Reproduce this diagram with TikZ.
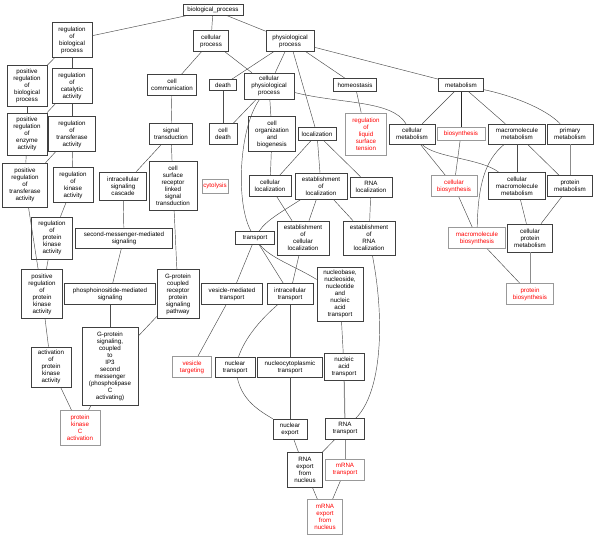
\documentclass[tikz,border=0pt]{standalone}
\usepackage{fontspec}
\setmainfont{Liberation Sans}
\begin{document}
\begin{tikzpicture}[x=1pt,y=-1pt,
 box/.style={draw=black!75, line width=0.6pt, align=center, inner sep=0pt, font=\fontsize{6.2}{7}\selectfont, fill=white},
 redbox/.style={box, draw=black!40, line width=0.9pt, text=red},
 sz/.style 2 args={minimum width=#1pt, minimum height=#2pt},
 edge/.style={draw=black!70, line width=0.45pt},
 heavy/.style={draw=black!45, line width=1pt}]
\fill[white] (0,0) rectangle (600,538);
\useasboundingbox (0,0) rectangle (600,538);
% row 1-2
\node[box,sz={60}{11}] (bp) at (213,10) {biological\_process};
\node[box,sz={40}{35}] (rbp) at (72,40) {regulation\\of\\biological\\process};
\node[box,sz={35}{21}] (cp) at (211,41) {cellular\\process};
\node[box,sz={48}{21}] (pp) at (290,41) {physiological\\process};
% row 3
\node[box,sz={40}{41}] (prbp) at (27,86) {positive\\regulation\\of\\biological\\process};
\node[box,sz={40}{35}] (rca) at (72,86) {regulation\\of\\catalytic\\activity};
\node[box,sz={49}{21}] (cc) at (172,85) {cell\\communication};
\node[box,sz={27}{11}] (death) at (223,85) {death};
\node[box,sz={50}{26}] (cpp) at (269,86) {cellular\\physiological\\process};
\node[box,sz={43}{13}] (hom) at (355,85) {homeostasis};
\node[box,sz={45}{13}] (met) at (461,85) {metabolism};
% row 4
\node[box,sz={40}{42}] (prea) at (27,134) {positive\\regulation\\of\\enzyme\\activity};
\node[box,sz={47}{35}] (rta) at (72,134) {regulation\\of\\transferase\\activity};
\node[box,sz={43}{21}] (st) at (171,134) {signal\\transduction};
\node[box,sz={28}{21}] (celld) at (223,134) {cell\\death};
\node[box,sz={47}{35}] (cob) at (272,134) {cell\\organization\\and\\biogenesis};
\node[box,sz={38}{13}] (loc) at (317,134) {localization};
\node[redbox,sz={41}{42}] (rlst) at (366,134) {regulation\\of\\liquid\\surface\\tension};
\node[box,sz={46}{20}] (cm) at (412,134) {cellular\\metabolism};
\node[redbox,sz={48}{13}] (bio) at (461,134) {biosynthesis};
\node[box,sz={57}{20}] (mm) at (517,134) {macromolecule\\metabolism};
\node[box,sz={46}{20}] (pm) at (570,134) {primary\\metabolism};
% row 5
\node[box,sz={45}{44}] (prta) at (25,185) {positive\\regulation\\of\\transferase\\activity};
\node[box,sz={40}{35}] (rka) at (73,185) {regulation\\of\\kinase\\activity};
\node[box,sz={47}{28}] (isc) at (123,186) {intracellular\\signaling\\cascade};
\node[box,sz={48}{49}] (csr) at (173,186) {cell\\surface\\receptor\\linked\\signal\\transduction};
\node[redbox,sz={26}{14}] (cyto) at (215,186) {cytolysis};
\node[box,sz={42}{21}] (cl) at (270,186) {cellular\\localization};
\node[box,sz={52}{26}] (eol) at (321,186) {establishment\\of\\localization};
\node[box,sz={42}{20}] (rl) at (371,187) {RNA\\localization};
\node[redbox,sz={46}{21}] (cb) at (454,186) {cellular\\biosynthesis};
\node[box,sz={57}{27}] (cmm) at (517,186) {cellular\\macromolecule\\metabolism};
\node[box,sz={45}{21}] (prm) at (570,186) {protein\\metabolism};
% row 6
\node[box,sz={41}{42}] (rpka) at (52,238) {regulation\\of\\protein\\kinase\\activity};
\node[box,sz={97}{20}] (smms) at (124,238) {second-messenger-mediated\\signaling};
\node[box,sz={39}{13}] (trans) at (255,238) {transport};
\node[box,sz={52}{34}] (ecl) at (303,238) {establishment\\of\\cellular\\localization};
\node[box,sz={52}{34}] (erl) at (369,238) {establishment\\of\\RNA\\localization};
\node[redbox,sz={57}{21}] (mb) at (477,238) {macromolecule\\biosynthesis};
\node[box,sz={45}{28}] (cpm) at (530,238) {cellular\\protein\\metabolism};
% row 7
\node[box,sz={41}{49}] (prpka) at (42,294) {positive\\regulation\\of\\protein\\kinase\\activity};
\node[box,sz={91}{21}] (pims) at (110,294) {phosphoinositide-mediated\\signaling};
\node[box,sz={42}{49}] (gpcr) at (178,294) {G-protein\\coupled\\receptor\\protein\\signaling\\pathway};
\node[box,sz={61}{21}] (vmt) at (232,294) {vesicle-mediated\\transport};
\node[box,sz={46}{21}] (it) at (290,294) {intracellular\\transport};
\node[box,sz={46}{54}] (nnt) at (340,294) {nucleobase,\\nucleoside,\\nucleotide\\and\\nucleic\\acid\\transport};
\node[redbox,sz={47}{21}] (pb) at (530,294) {protein\\biosynthesis};
% row 8
\node[box,sz={40}{40}] (apka) at (51,367) {activation\\of\\protein\\kinase\\activity};
\node[box,sz={56}{78}] (gip3) at (110,366) {G-protein\\signaling,\\coupled\\to\\IP3\\second\\messenger\\(phospholipase\\C\\activating)};
\node[redbox,sz={39}{21}] (vt) at (192,367) {vesicle\\targeting};
\node[box,sz={40}{20}] (nt) at (235,367) {nuclear\\transport};
\node[box,sz={65}{20}] (nct) at (290,367) {nucleocytoplasmic\\transport};
\node[box,sz={40}{27}] (nat) at (344,367) {nucleic\\acid\\transport};
% lower rows
\node[redbox,sz={40}{35}] (pkc) at (80,428) {protein\\kinase\\C\\activation};
\node[box,sz={34}{20}] (ne) at (290,429) {nuclear\\export};
\node[box,sz={39}{21}] (rt) at (345,429) {RNA\\transport};
\node[box,sz={35}{35}] (rexp) at (305,470) {RNA\\export\\from\\nucleus};
\node[redbox,sz={39}{21}] (mt) at (345,470) {mRNA\\transport};
\node[redbox,sz={35}{35}] (mexp) at (325,517) {mRNA\\export\\from\\nucleus};
% straight edges
\foreach \a/\b in {bp/rbp,bp/cp,bp/pp,rbp/prbp,rbp/rca,prbp/prea,rca/prea,rca/rta,
  prea/prta,rta/prta,rta/rka,rka/rpka,prta/prpka,rpka/prpka,prpka/apka,apka/pkc,gip3/pkc,
  cp/cc,cp/cpp,cc/st,st/isc,st/csr,isc/smms,smms/pims,csr/gpcr,pims/gip3,gpcr/gip3,
  pp/death,pp/cpp,pp/loc,pp/hom,pp/met,death/celld,cpp/celld,cpp/cob,cob/cl,
  loc/cl,loc/eol,loc/rl,cl/ecl,eol/ecl,eol/erl,rl/erl,trans/vmt,trans/it,ecl/it,
  hom/rlst,met/cm,met/mm,cm/cb,bio/cb,cb/mb,mm/cmm,mm/prm,cmm/cpm,prm/cpm,mb/pb,
  vmt/vt,it/nct,nnt/nat,nct/ne,ne/rexp,rt/rexp,rexp/mexp,mt/mexp}
  \draw[edge] (\a) -- (\b);
\foreach \a/\b in {met/bio}
  \draw[edge,draw=black!85,line width=0.6pt] (\a) -- (\b);
\foreach \a/\b in {pm/prm,cpm/pb,nat/rt,rt/mt}
  \draw[heavy] (\a) -- (\b);
% curved edges
\draw[edge] (cpp) .. controls (340,104) and (392,100) .. (cm);
\draw[edge] (cpp) .. controls (238,130) and (236,205) .. (trans);
\draw[edge] (eol) .. controls (285,210) and (266,220) .. (trans);
\draw[edge] (trans) .. controls (270,258) and (295,266) .. (nnt);
\draw[edge] (cm) .. controls (435,158) and (480,158) .. (cmm);
\draw[edge] (mm) .. controls (485,160) and (478,185) .. (mb);
\draw[edge] (met) .. controls (510,95) and (545,108) .. (pm);
\draw[edge] (erl) .. controls (385,320) and (382,392) .. (rt);
\draw[edge] (nt) .. controls (242,400) and (258,410) .. (ne);
\draw[edge] (it) .. controls (260,320) and (245,338) .. (nt);
\end{tikzpicture}
\end{document}
